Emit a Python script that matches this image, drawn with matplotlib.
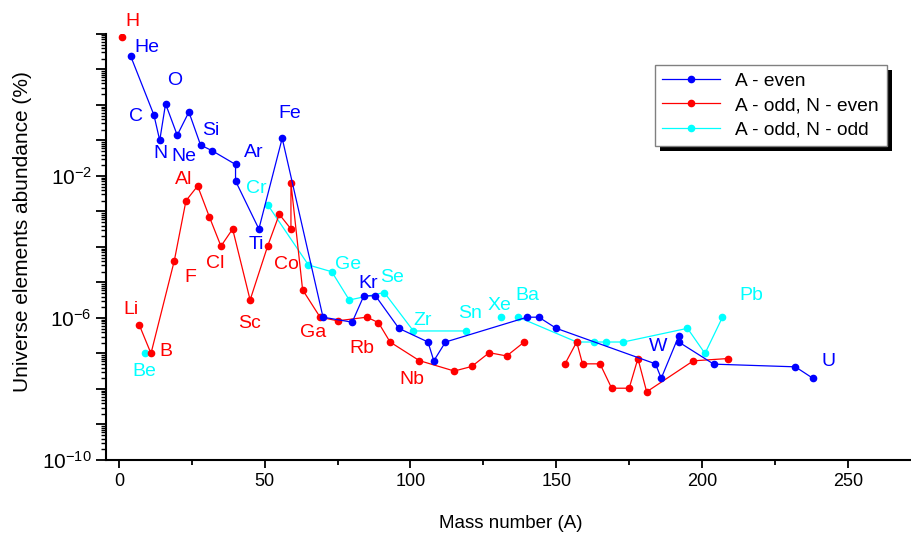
import numpy as np
import matplotlib
matplotlib.use('Agg')
import matplotlib.pyplot as plt
from matplotlib.patches import Rectangle
from matplotlib.ticker import FixedLocator, LogLocator, FuncFormatter, NullFormatter

plt.rcParams['font.family'] = ['Liberation Sans', 'DejaVu Sans']
plt.rcParams['mathtext.default'] = 'regular'

nan = np.nan

# A - even
even_A = [4, 12, 14, 16, 20, 24, 28, 32, 40, 40, 48, 56, 70, 80, 84, 88, 96, 106, 108, 112,
          140, 144, 150, 184, 186, 192, 192, 204, 232, 238]
even_ab = [24, 0.52, 0.10, 1.07, 0.14, 0.63, 0.074, 0.051, 0.021, 0.0072, 3.2e-4, 0.115,
           1.05e-6, 7.6e-7, 4.2e-6, 4.2e-6, 5.1e-7, 2.1e-7, 6.2e-8, 2.1e-7,
           1.05e-6, 1.05e-6, 5.1e-7, 5.1e-8, 2.0e-8, 3.1e-7, 2.1e-7, 5.0e-8, 4.2e-8, 2.0e-8]

# A - odd, N - even  (nan = gap in line)
oddeven_A = [1, nan, 7, 11, 19, 23, 27, 31, 35, 39, 45, 51, 55, 59, 59, 63, 69, 75, 85, 89,
             93, 103, 115, 121, 127, 133, 139, nan, 153, 157, 159, 165, 169, 175, 178, 181, 197, 209]
oddeven_ab = [79, nan, 6.3e-7, 1.0e-7, 4.1e-5, 2.0e-3, 5.2e-3, 7.1e-4, 1.05e-4, 3.2e-4,
              3.2e-6, 1.05e-4, 8.3e-4, 3.2e-4, 6.3e-3, 6.2e-6, 1.05e-6, 8.3e-7, 1.05e-6, 7.4e-7,
              2.1e-7, 6.3e-8, 3.2e-8, 4.3e-8, 1.05e-7, 8.5e-8, 2.1e-7, nan,
              5.1e-8, 2.1e-7, 5.1e-8, 5.1e-8, 1.05e-8, 1.05e-8, 7.2e-8, 8.3e-9, 6.2e-8, 7.2e-8]

# A - odd, N - odd
oddodd_A = [9, nan, 51, 65, 73, 79, 91, 101, 119, nan, 131, nan, 137, 157, 163, 167, 173, 195, 201, 207]
oddodd_ab = [1.0e-7, nan, 1.55e-3, 3.1e-5, 2.0e-5, 3.2e-6, 5.2e-6, 4.3e-7, 4.3e-7, nan,
             1.05e-6, nan, 1.05e-6, 2.1e-7, 2.1e-7, 2.1e-7, 2.1e-7, 5.1e-7, 1.0e-7, 1.05e-6]

# element labels: name, colour, label position (A, abundance)
lbl_names = ['H', 'He', 'C', 'N', 'O', 'Ne', 'Si', 'Ar', 'Fe', 'Al', 'Cr', 'Ti', 'F', 'Cl',
             'Co', 'Ge', 'Kr', 'Se', 'Sc', 'Ga', 'Rb', 'Zr', 'Nb', 'Sn', 'Xe', 'Ba', 'W',
             'Pb', 'U', 'Li', 'B', 'Be']
lbl_colors = ['r', 'b', 'b', 'b', 'b', 'b', 'b', 'b', 'b', 'r', 'c', 'b', 'r', 'r',
              'r', 'c', 'b', 'c', 'r', 'r', 'r', 'c', 'r', 'c', 'c', 'c', 'b',
              'c', 'b', 'r', 'r', 'c']
lbl_x = [4.8, 9.6, 5.8, 14.4, 19.2, 22.3, 31.6, 46.3, 58.7, 22.3, 47.0, 47.3, 24.4, 32.9,
         57.6, 78.6, 85.4, 93.7, 44.9, 66.6, 83.4, 104.3, 100.5, 120.4, 130.4, 140.0, 184.9,
         216.8, 243.2, 4.1, 16.1, 8.6]
lbl_y = [2.2e2, 41, 0.46, 0.042, 5.0, 0.036, 0.19, 0.045, 0.56, 7.8e-3, 4.3e-3, 1.2e-4, 1.35e-5, 3.5e-5,
         3.3e-5, 3.1e-5, 9.1e-6, 1.4e-5, 7.2e-7, 3.8e-7, 1.4e-7, 8.3e-7, 1.8e-8, 1.3e-6, 2.3e-6, 4.2e-6, 1.6e-7,
         4.2e-6, 5.8e-8, 1.7e-6, 1.1e-7, 3.2e-8]

BLUE = '#0000ff'
RED = '#ff0000'
CYAN = '#00ffff'
cmap = {'b': BLUE, 'r': RED, 'c': CYAN}

fig = plt.figure(figsize=(9.12, 5.34), dpi=100)
ax = fig.add_axes([0.116, 0.1386, 0.884, 0.798])

l3, = ax.plot(oddodd_A, oddodd_ab, '-o', color=CYAN, lw=0.9, ms=4.5, label='A - odd, N - odd')
l2, = ax.plot(oddeven_A, oddeven_ab, '-o', color=RED, lw=0.9, ms=4.5, label='A - odd, N - even')
l1, = ax.plot(even_A, even_ab, '-o', color=BLUE, lw=0.9, ms=4.5, label='A - even')

for name, c, x, y in zip(lbl_names, lbl_colors, lbl_x, lbl_y):
    ax.text(x, y, name, color=cmap[c], fontsize=14, ha='center', va='center')

ax.set_yscale('log')
ax.set_xlim(-4.5, 272)
ax.set_ylim(1e-10, 1e2)

ax.xaxis.set_major_locator(FixedLocator([0, 50, 100, 150, 200, 250]))
ax.xaxis.set_minor_locator(FixedLocator([25, 75, 125, 175, 225]))
ax.yaxis.set_major_locator(FixedLocator([10.0 ** k for k in range(-10, 3)]))
ax.yaxis.set_minor_locator(LogLocator(base=10, subs=np.arange(2, 10), numticks=100))
ax.yaxis.set_minor_formatter(NullFormatter())


def ylab(v, pos):
    k = int(round(np.log10(v)))
    if k in (-10, -6, -2):
        return '$10^{%d}$' % k
    return ''


ax.yaxis.set_major_formatter(FuncFormatter(ylab))

for s in ['top', 'right']:
    ax.spines[s].set_visible(False)
for s in ['left', 'bottom']:
    ax.spines[s].set_linewidth(1.5)

ax.tick_params(axis='both', which='major', direction='out', width=1.3)
ax.tick_params(axis='x', which='major', length=6, labelsize=13)
ax.tick_params(axis='x', which='minor', length=3.5, width=1.3)
ax.tick_params(axis='y', which='major', length=7, labelsize=15, pad=3)
ax.tick_params(axis='y', which='minor', length=3.5, width=1)

ax.set_xlabel('Mass number (A)', fontsize=13.5)
ax.set_ylabel('Universe elements abundance (%)', fontsize=15)
ax.xaxis.set_label_coords(0.5025, -0.128)
ax.yaxis.set_label_coords(-0.092, 0.536)

leg = ax.legend(handles=[l1, l2, l3], loc='upper left', bbox_to_anchor=(0.681, 0.927),
                borderaxespad=0, fancybox=False, fontsize=13.8, numpoints=1,
                handlelength=3, labelspacing=0.35, edgecolor='#808080', framealpha=1)
leg.get_frame().set_linewidth(1)

# solid black drop shadow behind the legend box
fig.canvas.draw()
bb = leg.get_window_extent()
shadow = Rectangle((bb.x0 + 5, bb.y0 - 5), bb.width, bb.height, transform=None,
                   facecolor='black', edgecolor='none', zorder=leg.get_zorder() - 0.1,
                   clip_on=False)
ax.add_artist(shadow)

plt.savefig('out.png', dpi=100)
